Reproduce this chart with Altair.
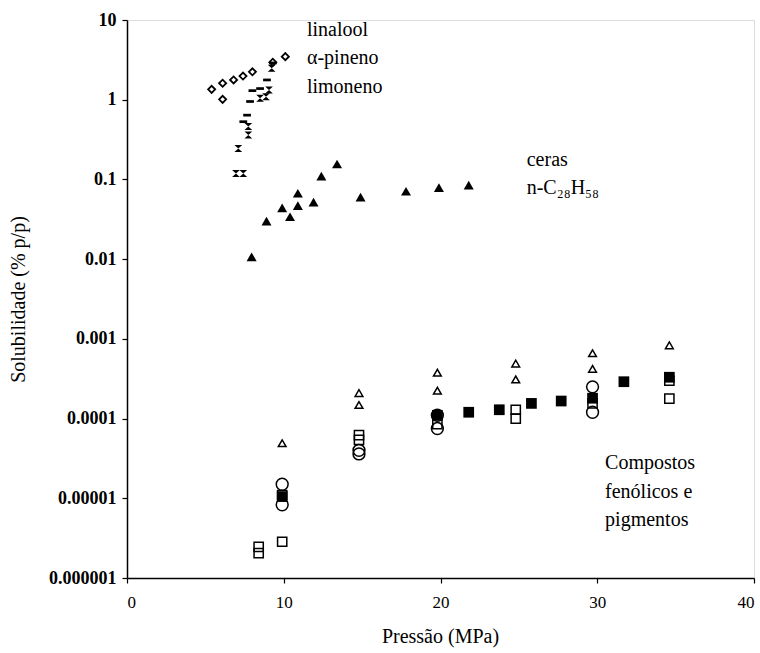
import altair as alt
import pandas as pd

# linalool (open diamonds)
lin_x = [5.4, 6.1, 6.8, 7.4, 8.0, 6.1, 9.3, 10.1]
lin_y = [1.35, 1.61, 1.77, 1.98, 2.24, 1.01, 2.95, 3.47]
# alpha-pineno (hourglass x marks)
pin_x = [9.06, 8.87, 8.49, 7.74, 7.74, 7.1, 6.95, 7.42, 9.23]
pin_y = [1.32, 1.09, 1.04, 0.46, 0.36, 0.245, 0.119, 0.119, 2.48]
# limoneno (bold dashes)
lim_x = [8.93, 8.49, 8.0, 7.85, 7.66, 7.42, 9.31]
lim_y = [1.77, 1.38, 1.30, 0.95, 0.64, 0.53, 2.89]
# ceras n-C28H58 (filled triangles)
cer_x = [7.95, 8.9, 9.9, 10.4, 10.9, 10.9, 11.9, 12.4, 13.4, 14.9, 17.8, 19.9, 21.8]
cer_y = [0.0107, 0.030, 0.044, 0.034, 0.067, 0.047, 0.052, 0.110, 0.156, 0.060, 0.071, 0.079, 0.085]
# compostos fenólicos e pigmentos
tri_x = [9.9, 14.8, 14.8, 19.8, 19.8, 24.8, 24.8, 29.7, 29.7, 34.6]
tri_y = [4.9e-5, 2.09e-4, 1.48e-4, 3.76e-4, 2.24e-4, 4.9e-4, 3.1e-4, 6.6e-4, 4.2e-4, 8.3e-4]
cir_x = [9.9, 9.9, 14.8, 14.8, 19.8, 19.8, 29.7, 29.7]
cir_y = [1.5e-5, 8.3e-6, 4.0e-5, 3.6e-5, 1.1e-4, 7.5e-5, 2.5e-4, 1.2e-4]
osq_x = [8.4, 8.4, 9.9, 9.9, 14.8, 14.8, 19.8, 24.8, 24.8, 29.7, 34.6, 34.6]
osq_y = [2.45e-6, 2.05e-6, 2.85e-6, 1.1e-5, 6.2e-5, 5.4e-5, 8.5e-5, 1.29e-4, 1.0e-4, 1.55e-4, 3.0e-4, 1.78e-4]
fsq_x = [9.9, 19.8, 21.8, 23.75, 25.8, 27.7, 29.7, 31.7, 34.6]
fsq_y = [1.05e-5, 1.1e-4, 1.2e-4, 1.29e-4, 1.55e-4, 1.66e-4, 1.8e-4, 2.9e-4, 3.3e-4]

# annotation labels
lab_text = ["linalool", "α-pineno", "limoneno", "ceras", "n-C₂₈H₅₈",
            "Compostos", "fenólicos e", "pigmentos"]
lab_x = [11.48, 11.48, 11.48, 25.5, 25.5, 30.5, 30.5, 30.5]
lab_y = [7.5, 3.33, 1.44, 0.175, 0.078, 2.77e-5, 1.2e-5, 5.37e-6]

y_ticks = [1e-6, 1e-5, 1e-4, 1e-3, 1e-2, 1e-1, 1, 10]
x_ticks = [0, 10, 20, 30, 40]

FONT = "Liberation Serif"

X = alt.X("x:Q", scale=alt.Scale(domain=[0, 40], nice=False, zero=False),
          axis=alt.Axis(values=x_ticks, title="Pressão (MPa)", grid=False,
                        tickSize=5, labelPadding=11, labelFontSize=17,
                        labelFont=FONT, labelColor="black",
                        titleFont=FONT, titleFontSize=20, titleFontWeight="normal",
                        titleColor="black", titleX=313, titleY=58,
                        titleAlign="center", titleBaseline="middle",
                        domainColor="black", tickColor="black",
                        domainWidth=1.5, tickWidth=1.2))
Y = alt.Y("y:Q", scale=alt.Scale(type="log", domain=[1e-6, 10], nice=False),
          axis=alt.Axis(values=y_ticks, title="Solubilidade (% p/p)", grid=False,
                        labelExpr="format(datum.value, '.6~f')",
                        tickSize=5, labelPadding=6, labelFontSize=18,
                        labelFont=FONT, labelFontWeight="bold", labelColor="black",
                        titleFont=FONT, titleFontSize=20, titleFontWeight="normal",
                        titleColor="black", titleX=-109, titleY=279,
                        titleAngle=270, titleAlign="center", titleBaseline="middle",
                        domainColor="black", tickColor="black",
                        domainWidth=1.5, tickWidth=1.2))


def df(xs, ys):
    return pd.DataFrame({"x": xs, "y": ys})


HOURGLASS = "M-1,-0.9L1,-0.9L-1,0.9L1,0.9Z"
DASH = "M-1,-0.35L1,-0.35L1,0.35L-1,0.35Z"

layers = [
    alt.Chart(df(lin_x, lin_y)).mark_point(shape="diamond", filled=False, size=50,
                                           color="black", strokeWidth=1.8, opacity=1),
    alt.Chart(df(pin_x, pin_y)).mark_point(shape=HOURGLASS, filled=True, size=60,
                                           color="black", strokeWidth=0.8, opacity=1),
    alt.Chart(df(lim_x, lim_y)).mark_point(shape=DASH, filled=True, size=60,
                                           color="black", opacity=1),
    alt.Chart(df(cer_x, cer_y)).mark_point(shape="triangle-up", filled=True, size=100,
                                           color="black", opacity=1),
    alt.Chart(df(tri_x, tri_y)).mark_point(shape="triangle-up", filled=False, size=60,
                                           color="black", strokeWidth=1.5, opacity=1),
    alt.Chart(df(cir_x, cir_y)).mark_point(shape="circle", filled=False, size=140,
                                           color="black", strokeWidth=1.5, opacity=1),
    alt.Chart(df(osq_x, osq_y)).mark_point(shape="square", filled=False, size=85,
                                           color="black", strokeWidth=1.5, opacity=1),
    alt.Chart(df(fsq_x, fsq_y)).mark_point(shape="square", filled=True, size=115,
                                           color="black", opacity=1),
]
layers = [l.encode(x=X, y=Y) for l in layers]

labels = alt.Chart(pd.DataFrame({"x": lab_x, "y": lab_y, "t": lab_text})).mark_text(
    align="left", baseline="middle", font=FONT, fontSize=20, color="black"
).encode(x=X, y=Y, text="t:N")

chart = alt.layer(*layers, labels).properties(
    width=627, height=558,
    autosize=alt.AutoSizeParams(type="none"),
    padding={"left": 127, "top": 20, "right": 6, "bottom": 75},
).configure_view(stroke=None).configure(background="white")

chart.save("out.html", embed_options={"renderer": "svg", "actions": False})
